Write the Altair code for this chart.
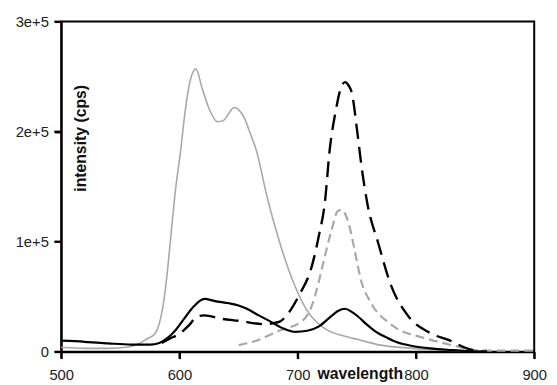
import altair as alt
import pandas as pd

# gray solid
gs_x = [500, 520, 540, 555, 565, 573, 579, 584, 587, 590, 593, 596, 601, 605, 609, 614, 619, 625, 632, 637, 642, 646, 650, 655, 660, 665, 674, 684, 696, 707, 723, 740, 751, 770, 792, 820, 850]
gs_y = [4, 3, 3, 4, 7, 12, 16, 30, 48, 75, 108, 141, 183, 220, 246, 257, 240, 221, 209, 210, 217, 222, 220, 212, 198, 183, 141, 102, 64, 39, 21, 14, 11, 6, 3.5, 1.5, 0.5]
# black solid
bs_x = [500, 520, 540, 560, 575, 583, 590, 597, 604, 612, 621, 630, 642, 650, 657, 667, 676, 688, 698, 708, 718, 727, 734, 740, 746, 751, 758, 765, 775, 784, 798, 812, 830, 845, 860]
bs_y = [10, 9, 7.5, 6.5, 6.5, 8, 12.5, 20, 30, 41, 48, 46, 44, 42, 39, 33, 28, 21, 18, 19, 23, 31, 37, 39, 36, 32, 25, 19, 13, 8.5, 5, 3, 1.5, 0.5, 0]
# black dashed
bd_x = [585, 592, 601, 608, 615, 621, 635, 651, 671, 684, 692, 701, 712, 718, 723, 727, 732, 736, 740, 743, 746, 750, 754, 759, 768, 779, 793, 812, 829, 843, 850, 860]
bd_y = [8, 12, 17, 24, 32, 33, 30, 28, 25, 27, 35, 51, 78, 106, 136, 183, 218, 238, 245, 242, 234, 203, 168, 134, 99, 60, 33, 17, 10, 3, 1, 0]
# gray dashed
gd_x = [650, 665, 684, 704, 712, 717, 721, 728, 734, 737, 743, 748, 754, 760, 765, 775, 784, 807, 834, 848, 870, 900]
gd_y = [6, 10, 19, 28, 42, 60, 78, 108, 128, 129, 117, 93, 63, 48, 39, 28, 21, 12.5, 5, 1.5, 1, 1]

x_ticks = [500, 600, 700, 800, 900]
y_ticks = [0, 100000, 200000, 300000]

W, H = 480, 335

def df(xs, ys):
    return pd.DataFrame({"wl": xs, "v": [y * 1000 for y in ys]})

xs = alt.Scale(domain=[500, 900], nice=False)
ys = alt.Scale(domain=[0, 300000], nice=False)

x_enc = alt.X("wl:Q", scale=xs,
              axis=alt.Axis(values=x_ticks, title="wavelength",
                            labelFlush=False, labelOverlap=False, ticks=True, tickSize=7,
                            titleX=303, titleY=27, titleBaseline="alphabetic",
                            titleFontWeight="bold", titleFontSize=16))
y_enc = alt.Y("v:Q", scale=ys,
              axis=alt.Axis(values=y_ticks,
                            labelExpr="datum.value == 0 ? '0' : format(datum.value/100000, 'd') + 'e+5'",
                            labelFlush=False, labelOverlap=False, ticks=True, tickSize=7,
                            title="intensity (cps)", titleX=20, titleY=118,
                            titleAngle=270, titleAlign="center", titleBaseline="middle",
                            titleFontWeight="bold", titleFontSize=16))

def line(d, color, width, dash=None):
    kw = dict(color=color, strokeWidth=width, interpolate="monotone")
    if dash:
        kw["strokeDash"] = dash
    return alt.Chart(d).mark_line(**kw).encode(x=x_enc, y=y_enc)

xt = alt.Chart(pd.DataFrame({"wl": x_ticks})).mark_rule(color="black", strokeWidth=2).encode(
    x=alt.X("wl:Q", scale=xs), y=alt.value(H), y2=alt.value(H + 7))
yt = alt.Chart(pd.DataFrame({"v": y_ticks})).mark_rule(color="black", strokeWidth=2).encode(
    y=alt.Y("v:Q", scale=ys), x=alt.value(-7), x2=alt.value(0))

chart = alt.layer(
    line(df(gs_x, gs_y), "#a8a8a8", 1.6),
    line(df(gd_x, gd_y), "#a8a8a8", 2.2, [9, 5]),
    line(df(bd_x, bd_y), "#000000", 2.4, [16, 8]),
    line(df(bs_x, bs_y), "#000000", 2.2),
    xt, yt,
).properties(
    width=W, height=H,
    autosize=alt.AutoSizeParams(type="none"),
    padding={"left": 54, "top": 11, "right": 15, "bottom": 31},
).configure_view(
    stroke="black", strokeWidth=2
).configure_axis(
    grid=False, domainColor="black", domainWidth=2, tickColor="black", tickWidth=2,
    labelFont="Liberation Sans", titleFont="Liberation Sans",
    labelFontSize=15, labelColor="#222", titleColor="#111",
).configure_axisX(labelPadding=9).configure_axisY(labelPadding=6)

chart.save("out.html", embed_options={"renderer": "svg", "actions": False})
